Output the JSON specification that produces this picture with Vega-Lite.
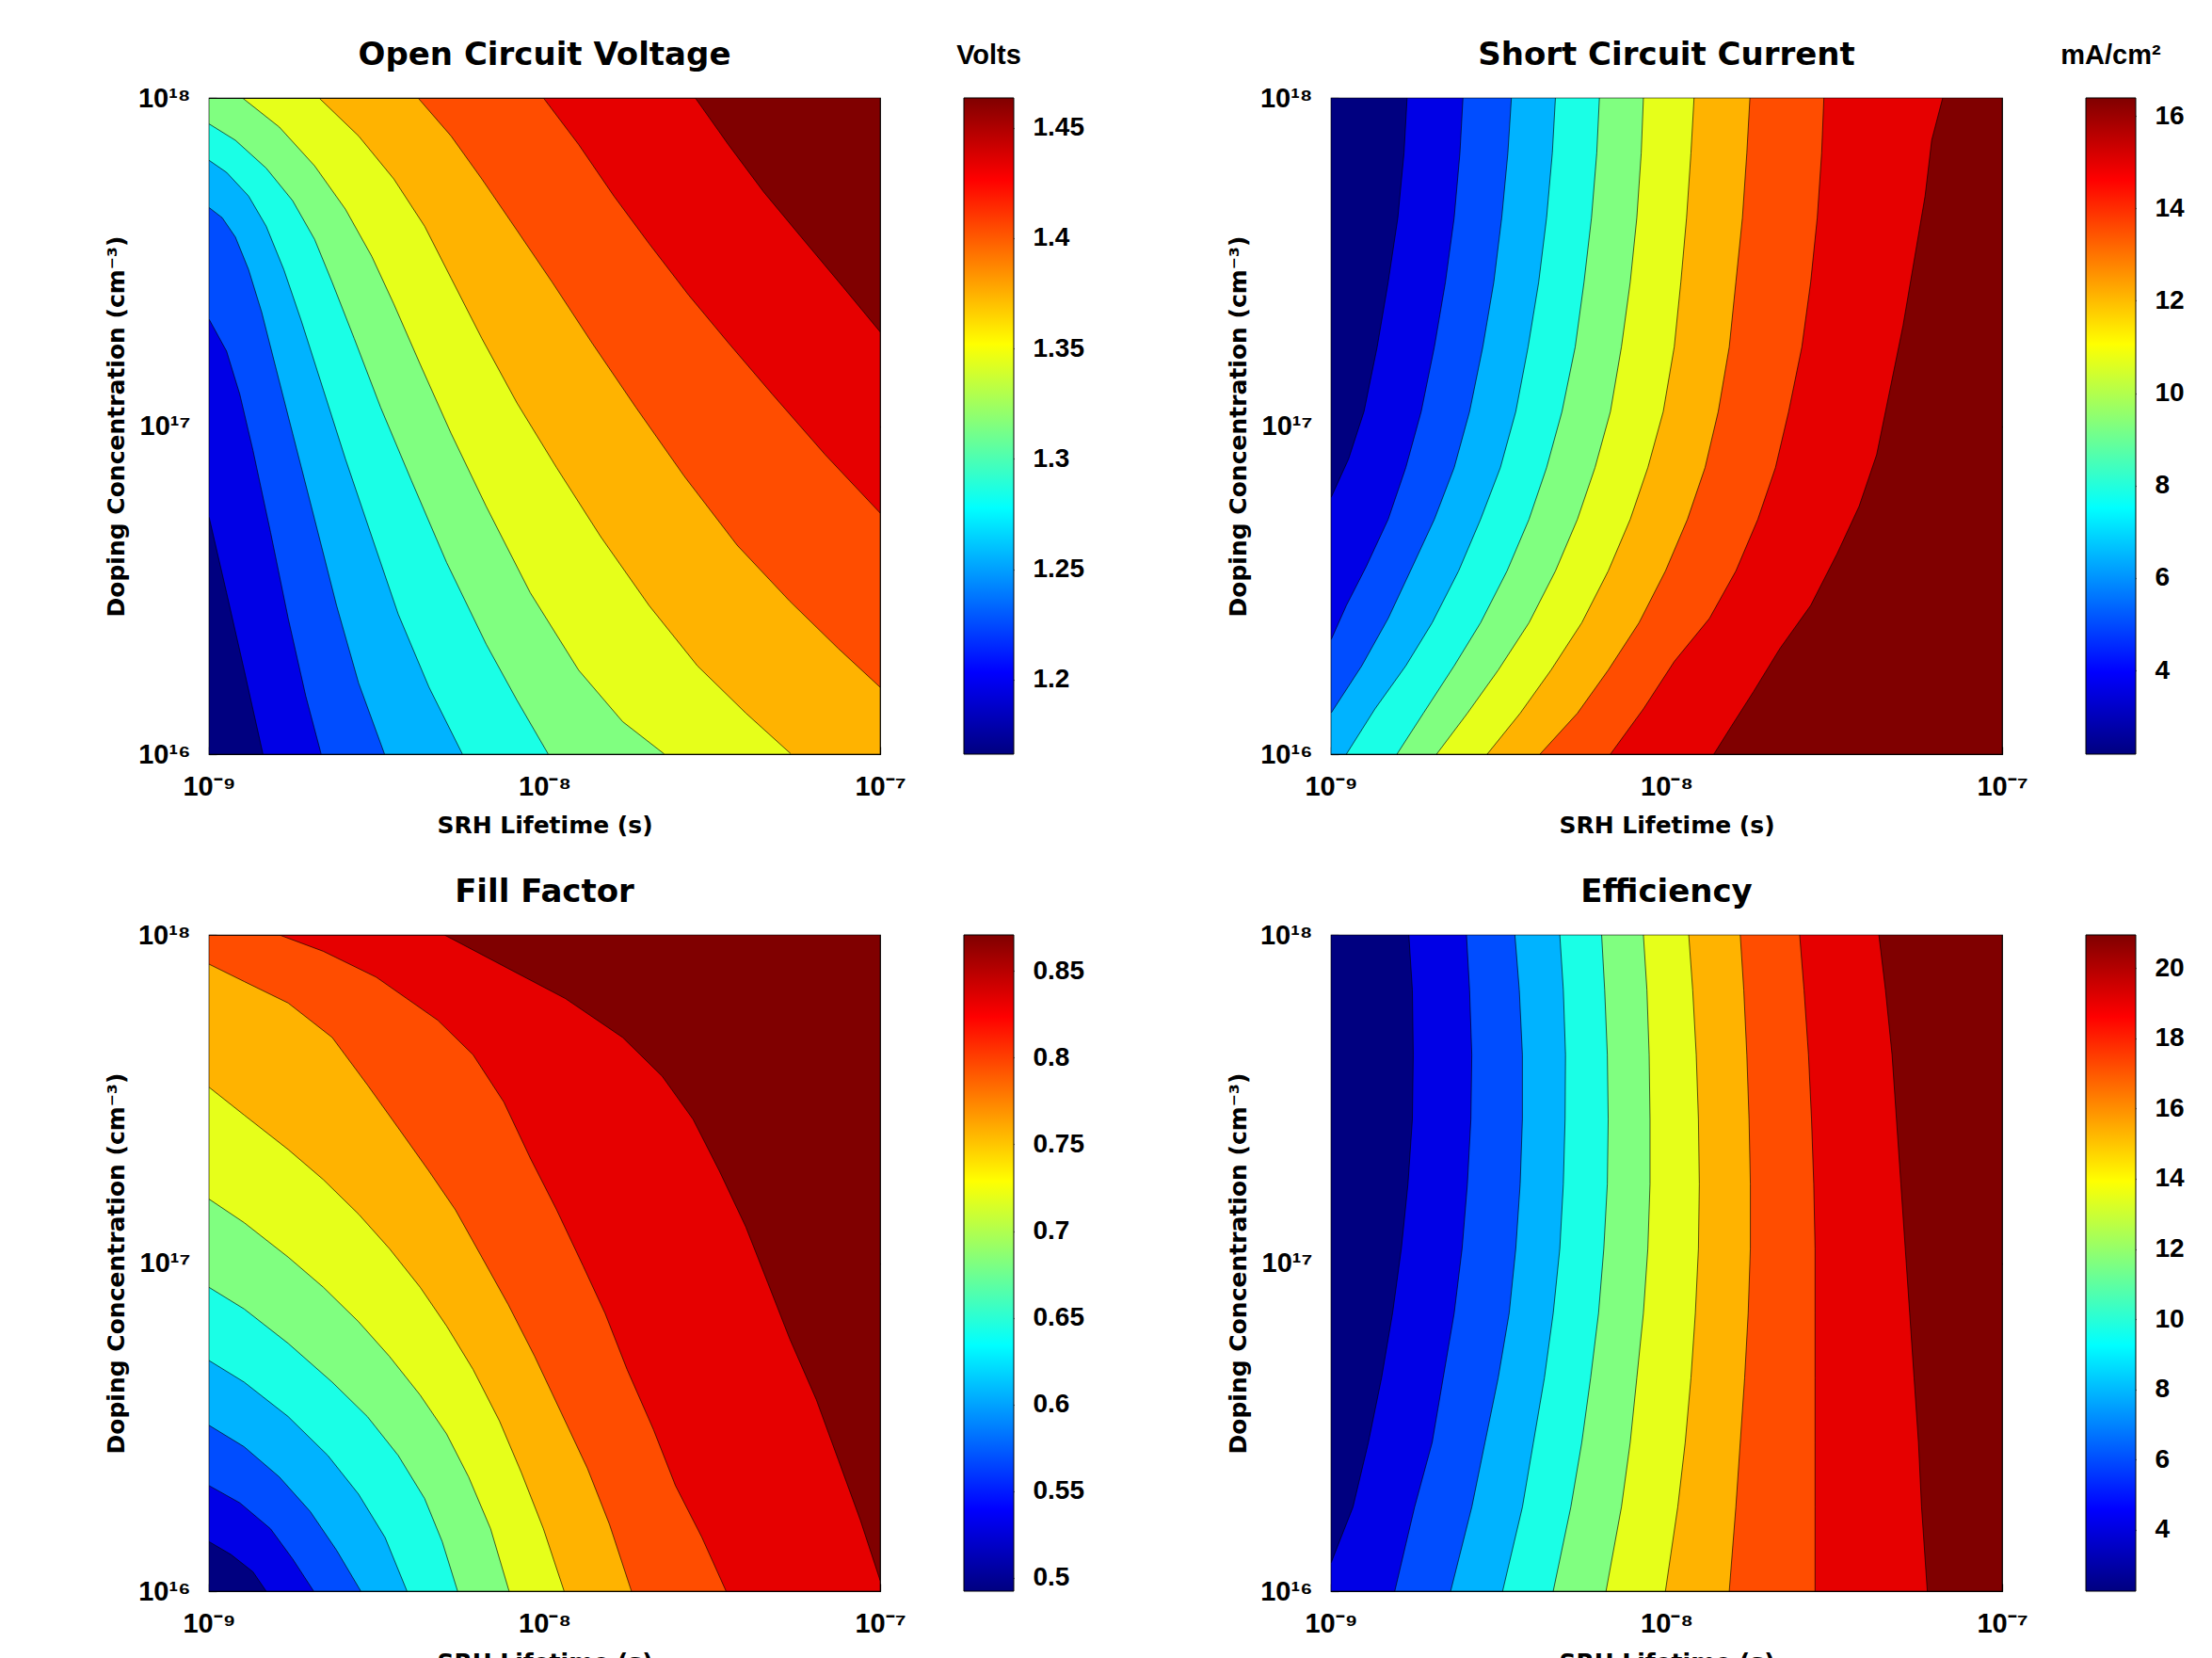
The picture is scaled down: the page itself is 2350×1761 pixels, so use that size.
{
"$schema": "https://vega.github.io/schema/vega-lite/v6.json",
"background": "white",
"padding": {"left": 110, "top": 41, "right": 5, "bottom": 5},
"config": {
  "view": {"stroke": "black", "strokeWidth": 1.2},
  "font": "Liberation Sans",
  "axis": {"grid": false, "domain": false, "tickColor": "black", "tickSize": -8, "tickWidth": 1.2, "zindex": 1, "labelFont": "Liberation Sans", "labelFontWeight": "bold", "labelFontSize": 29, "labelColor": "black", "titleFont": "DejaVu Sans", "titleFontWeight": "bold", "titleFontSize": 25, "titleColor": "black", "labelFlush": false, "labelOverlap": false},
  "title": {"font": "DejaVu Sans", "fontWeight": "bold", "fontSize": 34, "color": "black", "frame": "group", "baseline": "alphabetic", "offset": 14, "anchor": "middle"}
},
"datasets": {
"voc": [
{"k":0,"t":-9,"n":16},{"k":0,"t":-7,"n":16},
{"k":1,"t":-9,"n":16.724},{"k":1,"t":-8.9475,"n":16.492},{"k":1,"t":-8.895,"n":16.256},{"k":1,"t":-8.839,"n":16},{"k":1,"t":-7,"n":16},
{"k":2,"t":-9,"n":17.326},{"k":2,"t":-8.9475,"n":17.228},{"k":2,"t":-8.9082,"n":17.097},{"k":2,"t":-8.8689,"n":16.926},{"k":2,"t":-8.8164,"n":16.676},{"k":2,"t":-8.7639,"n":16.414},{"k":2,"t":-8.7115,"n":16.177},{"k":2,"t":-8.6656,"n":16},{"k":2,"t":-7,"n":16},
{"k":3,"t":-9,"n":17.666},{"k":3,"t":-8.9607,"n":17.635},{"k":3,"t":-8.9213,"n":17.576},{"k":3,"t":-8.882,"n":17.477},{"k":3,"t":-8.8426,"n":17.346},{"k":3,"t":-8.8033,"n":17.188},{"k":3,"t":-8.7508,"n":16.978},{"k":3,"t":-8.6852,"n":16.716},{"k":3,"t":-8.6197,"n":16.453},{"k":3,"t":-8.5541,"n":16.217},{"k":3,"t":-8.4767,"n":16},{"k":3,"t":-7,"n":16},
{"k":4,"t":-9,"n":17.81},{"k":4,"t":-8.9475,"n":17.773},{"k":4,"t":-8.882,"n":17.701},{"k":4,"t":-8.8295,"n":17.609},{"k":4,"t":-8.777,"n":17.477},{"k":4,"t":-8.7246,"n":17.32},{"k":4,"t":-8.659,"n":17.11},{"k":4,"t":-8.5934,"n":16.9},{"k":4,"t":-8.5148,"n":16.663},{"k":4,"t":-8.4361,"n":16.427},{"k":4,"t":-8.3443,"n":16.204},{"k":4,"t":-8.2446,"n":16},{"k":4,"t":-7,"n":16},
{"k":5,"t":-9,"n":17.921},{"k":5,"t":-8.9213,"n":17.871},{"k":5,"t":-8.8295,"n":17.786},{"k":5,"t":-8.7508,"n":17.687},{"k":5,"t":-8.6852,"n":17.569},{"k":5,"t":-8.6328,"n":17.438},{"k":5,"t":-8.5672,"n":17.267},{"k":5,"t":-8.4885,"n":17.057},{"k":5,"t":-8.3967,"n":16.834},{"k":5,"t":-8.2918,"n":16.584},{"k":5,"t":-8.1738,"n":16.335},{"k":5,"t":-8.082,"n":16.164},{"k":5,"t":-7.9889,"n":16},{"k":5,"t":-7,"n":16},
{"k":6,"t":-9,"n":18},{"k":6,"t":-8.9003,"n":18},{"k":6,"t":-8.7902,"n":17.911},{"k":6,"t":-8.6852,"n":17.793},{"k":6,"t":-8.5934,"n":17.661},{"k":6,"t":-8.5148,"n":17.517},{"k":6,"t":-8.4492,"n":17.372},{"k":6,"t":-8.3705,"n":17.188},{"k":6,"t":-8.2787,"n":16.978},{"k":6,"t":-8.1738,"n":16.755},{"k":6,"t":-8.0426,"n":16.492},{"k":6,"t":-7.8984,"n":16.256},{"k":6,"t":-7.7672,"n":16.099},{"k":6,"t":-7.6426,"n":16},{"k":6,"t":-7,"n":16},
{"k":7,"t":-9,"n":18},{"k":7,"t":-8.6721,"n":18},{"k":7,"t":-8.5541,"n":17.884},{"k":7,"t":-8.4492,"n":17.753},{"k":7,"t":-8.3574,"n":17.609},{"k":7,"t":-8.2787,"n":17.451},{"k":7,"t":-8.1869,"n":17.267},{"k":7,"t":-8.082,"n":17.07},{"k":7,"t":-7.964,"n":16.873},{"k":7,"t":-7.8328,"n":16.663},{"k":7,"t":-7.6885,"n":16.453},{"k":7,"t":-7.5443,"n":16.269},{"k":7,"t":-7.4,"n":16.125},{"k":7,"t":-7.2649,"n":16},{"k":7,"t":-7,"n":16},
{"k":8,"t":-9,"n":18},{"k":8,"t":-8.377,"n":18},{"k":8,"t":-8.2787,"n":17.884},{"k":8,"t":-8.1869,"n":17.753},{"k":8,"t":-8.082,"n":17.596},{"k":8,"t":-7.977,"n":17.438},{"k":8,"t":-7.859,"n":17.254},{"k":8,"t":-7.7279,"n":17.057},{"k":8,"t":-7.5836,"n":16.847},{"k":8,"t":-7.4262,"n":16.637},{"k":8,"t":-7.2689,"n":16.466},{"k":8,"t":-7.1246,"n":16.322},{"k":8,"t":-7,"n":16.204},
{"k":9,"t":-9,"n":18},{"k":9,"t":-8.0033,"n":18},{"k":9,"t":-7.8984,"n":17.858},{"k":9,"t":-7.7934,"n":17.701},{"k":9,"t":-7.6885,"n":17.556},{"k":9,"t":-7.5705,"n":17.399},{"k":9,"t":-7.4525,"n":17.254},{"k":9,"t":-7.3213,"n":17.097},{"k":9,"t":-7.1639,"n":16.913},{"k":9,"t":-7,"n":16.735},
{"k":10,"t":-9,"n":18},{"k":10,"t":-7.5508,"n":18},{"k":10,"t":-7.4525,"n":17.858},{"k":10,"t":-7.3475,"n":17.714},{"k":10,"t":-7.2295,"n":17.569},{"k":10,"t":-7.1115,"n":17.425},{"k":10,"t":-7,"n":17.287}
],
"jsc": [
{"k":0,"t":-9,"n":16},{"k":0,"t":-9,"n":18},
{"k":1,"t":-8.7731,"n":18},{"k":1,"t":-8.7823,"n":17.8319},{"k":1,"t":-8.8007,"n":17.6349},{"k":1,"t":-8.8295,"n":17.438},{"k":1,"t":-8.8623,"n":17.241},{"k":1,"t":-8.9016,"n":17.044},{"k":1,"t":-8.9475,"n":16.8996},{"k":1,"t":-9,"n":16.7814},{"k":1,"t":-9,"n":16},
{"k":2,"t":-8.6066,"n":18},{"k":2,"t":-8.6157,"n":17.8319},{"k":2,"t":-8.6328,"n":17.6349},{"k":2,"t":-8.659,"n":17.438},{"k":2,"t":-8.6918,"n":17.241},{"k":2,"t":-8.7311,"n":17.044},{"k":2,"t":-8.777,"n":16.8733},{"k":2,"t":-8.8295,"n":16.7157},{"k":2,"t":-8.8951,"n":16.5713},{"k":2,"t":-8.9541,"n":16.4531},{"k":2,"t":-9,"n":16.348},{"k":2,"t":-9,"n":16},
{"k":3,"t":-8.4623,"n":18},{"k":3,"t":-8.4728,"n":17.8319},{"k":3,"t":-8.4911,"n":17.6349},{"k":3,"t":-8.5148,"n":17.438},{"k":3,"t":-8.5475,"n":17.241},{"k":3,"t":-8.5869,"n":17.044},{"k":3,"t":-8.6328,"n":16.8733},{"k":3,"t":-8.6918,"n":16.7157},{"k":3,"t":-8.7574,"n":16.5713},{"k":3,"t":-8.8295,"n":16.4137},{"k":3,"t":-8.9082,"n":16.2692},{"k":3,"t":-9,"n":16.1247},{"k":3,"t":-9,"n":16},
{"k":4,"t":-8.3311,"n":18},{"k":4,"t":-8.3403,"n":17.8319},{"k":4,"t":-8.3574,"n":17.6349},{"k":4,"t":-8.381,"n":17.438},{"k":4,"t":-8.4125,"n":17.241},{"k":4,"t":-8.4492,"n":17.044},{"k":4,"t":-8.4951,"n":16.8733},{"k":4,"t":-8.5541,"n":16.7157},{"k":4,"t":-8.6197,"n":16.5581},{"k":4,"t":-8.6984,"n":16.4005},{"k":4,"t":-8.777,"n":16.2692},{"k":4,"t":-8.8689,"n":16.1379},{"k":4,"t":-8.9541,"n":16},
{"k":5,"t":-8.2,"n":18},{"k":5,"t":-8.2079,"n":17.8319},{"k":5,"t":-8.2236,"n":17.6349},{"k":5,"t":-8.2459,"n":17.438},{"k":5,"t":-8.2721,"n":17.241},{"k":5,"t":-8.3115,"n":17.044},{"k":5,"t":-8.3574,"n":16.8733},{"k":5,"t":-8.4098,"n":16.7157},{"k":5,"t":-8.4754,"n":16.5581},{"k":5,"t":-8.5541,"n":16.4005},{"k":5,"t":-8.6328,"n":16.2692},{"k":5,"t":-8.7246,"n":16.1247},{"k":5,"t":-8.8033,"n":16},
{"k":6,"t":-8.0689,"n":18},{"k":6,"t":-8.0754,"n":17.8319},{"k":6,"t":-8.0885,"n":17.6349},{"k":6,"t":-8.1082,"n":17.438},{"k":6,"t":-8.1344,"n":17.241},{"k":6,"t":-8.1672,"n":17.044},{"k":6,"t":-8.2131,"n":16.8733},{"k":6,"t":-8.2656,"n":16.7157},{"k":6,"t":-8.3311,"n":16.5581},{"k":6,"t":-8.4098,"n":16.4005},{"k":6,"t":-8.5016,"n":16.2561},{"k":6,"t":-8.5934,"n":16.1247},{"k":6,"t":-8.6852,"n":16},
{"k":7,"t":-7.918,"n":18},{"k":7,"t":-7.9272,"n":17.8319},{"k":7,"t":-7.9403,"n":17.6349},{"k":7,"t":-7.9574,"n":17.438},{"k":7,"t":-7.977,"n":17.241},{"k":7,"t":-8.0098,"n":17.044},{"k":7,"t":-8.0557,"n":16.8733},{"k":7,"t":-8.1082,"n":16.7157},{"k":7,"t":-8.1738,"n":16.5581},{"k":7,"t":-8.2525,"n":16.4005},{"k":7,"t":-8.3443,"n":16.2561},{"k":7,"t":-8.4361,"n":16.1247},{"k":7,"t":-8.5344,"n":16},
{"k":8,"t":-7.7515,"n":18},{"k":8,"t":-7.7607,"n":17.8319},{"k":8,"t":-7.7738,"n":17.6349},{"k":8,"t":-7.7934,"n":17.438},{"k":8,"t":-7.8131,"n":17.241},{"k":8,"t":-7.8459,"n":17.044},{"k":8,"t":-7.8852,"n":16.8733},{"k":8,"t":-7.9377,"n":16.7157},{"k":8,"t":-8.0033,"n":16.5581},{"k":8,"t":-8.082,"n":16.4005},{"k":8,"t":-8.1738,"n":16.2561},{"k":8,"t":-8.2656,"n":16.1247},{"k":8,"t":-8.377,"n":16},
{"k":9,"t":-7.5311,"n":18},{"k":9,"t":-7.5377,"n":17.8319},{"k":9,"t":-7.5508,"n":17.6349},{"k":9,"t":-7.5705,"n":17.438},{"k":9,"t":-7.5967,"n":17.241},{"k":9,"t":-7.6361,"n":17.044},{"k":9,"t":-7.6754,"n":16.8733},{"k":9,"t":-7.7279,"n":16.7157},{"k":9,"t":-7.7934,"n":16.5581},{"k":9,"t":-7.8721,"n":16.4137},{"k":9,"t":-7.977,"n":16.2823},{"k":9,"t":-8.0689,"n":16.1379},{"k":9,"t":-8.1672,"n":16},
{"k":10,"t":-7.177,"n":18},{"k":10,"t":-7.2098,"n":17.8713},{"k":10,"t":-7.2295,"n":17.7006},{"k":10,"t":-7.2623,"n":17.5036},{"k":10,"t":-7.2951,"n":17.3066},{"k":10,"t":-7.3344,"n":17.1097},{"k":10,"t":-7.3738,"n":16.9127},{"k":10,"t":-7.4262,"n":16.7551},{"k":10,"t":-7.4918,"n":16.6107},{"k":10,"t":-7.5705,"n":16.4531},{"k":10,"t":-7.6623,"n":16.3217},{"k":10,"t":-7.741,"n":16.1904},{"k":10,"t":-7.8066,"n":16.0853},{"k":10,"t":-7.859,"n":16}
],
"ff": [
{"k":0,"t":-9,"n":16},{"k":0,"t":-7,"n":16},
{"k":1,"t":-9,"n":16.151},{"k":1,"t":-8.9344,"n":16.1116},{"k":1,"t":-8.8689,"n":16.059},{"k":1,"t":-8.8295,"n":16},{"k":1,"t":-7,"n":16},
{"k":2,"t":-9,"n":16.3217},{"k":2,"t":-8.9082,"n":16.2692},{"k":2,"t":-8.8164,"n":16.19},{"k":2,"t":-8.7508,"n":16.0985},{"k":2,"t":-8.6879,"n":16},{"k":2,"t":-7,"n":16},
{"k":3,"t":-9,"n":16.5056},{"k":3,"t":-8.8951,"n":16.44},{"k":3,"t":-8.7902,"n":16.348},{"k":3,"t":-8.6984,"n":16.243},{"k":3,"t":-8.6197,"n":16.1247},{"k":3,"t":-8.5475,"n":16},{"k":3,"t":-7,"n":16},
{"k":4,"t":-9,"n":16.703},{"k":4,"t":-8.8951,"n":16.637},{"k":4,"t":-8.7639,"n":16.532},{"k":4,"t":-8.6459,"n":16.4137},{"k":4,"t":-8.5541,"n":16.2955},{"k":4,"t":-8.4754,"n":16.164},{"k":4,"t":-8.4098,"n":16},{"k":4,"t":-7,"n":16},
{"k":5,"t":-9,"n":16.926},{"k":5,"t":-8.8951,"n":16.86},{"k":5,"t":-8.7639,"n":16.7551},{"k":5,"t":-8.6328,"n":16.637},{"k":5,"t":-8.5279,"n":16.532},{"k":5,"t":-8.4361,"n":16.4137},{"k":5,"t":-8.3574,"n":16.2823},{"k":5,"t":-8.3049,"n":16.151},{"k":5,"t":-8.259,"n":16},{"k":5,"t":-7,"n":16},
{"k":6,"t":-9,"n":17.195},{"k":6,"t":-8.8951,"n":17.123},{"k":6,"t":-8.7639,"n":17.018},{"k":6,"t":-8.659,"n":16.926},{"k":6,"t":-8.5541,"n":16.821},{"k":6,"t":-8.4623,"n":16.7157},{"k":6,"t":-8.3705,"n":16.5975},{"k":6,"t":-8.2918,"n":16.479},{"k":6,"t":-8.2262,"n":16.348},{"k":6,"t":-8.1607,"n":16.19},{"k":6,"t":-8.1056,"n":16},{"k":6,"t":-7,"n":16},
{"k":7,"t":-9,"n":17.536},{"k":7,"t":-8.8951,"n":17.451},{"k":7,"t":-8.7639,"n":17.346},{"k":7,"t":-8.659,"n":17.254},{"k":7,"t":-8.5541,"n":17.149},{"k":7,"t":-8.4623,"n":17.044},{"k":7,"t":-8.3705,"n":16.926},{"k":7,"t":-8.2918,"n":16.808},{"k":7,"t":-8.2131,"n":16.676},{"k":7,"t":-8.1344,"n":16.519},{"k":7,"t":-8.0689,"n":16.361},{"k":7,"t":-8.0033,"n":16.19},{"k":7,"t":-7.9416,"n":16},{"k":7,"t":-7,"n":16},
{"k":8,"t":-9,"n":17.911},{"k":8,"t":-8.8951,"n":17.858},{"k":8,"t":-8.7639,"n":17.7925},{"k":8,"t":-8.6328,"n":17.6875},{"k":8,"t":-8.5279,"n":17.543},{"k":8,"t":-8.4361,"n":17.412},{"k":8,"t":-8.3443,"n":17.28},{"k":8,"t":-8.2656,"n":17.162},{"k":8,"t":-8.1869,"n":17.018},{"k":8,"t":-8.1082,"n":16.8733},{"k":8,"t":-8.0295,"n":16.7157},{"k":8,"t":-7.9508,"n":16.545},{"k":8,"t":-7.8721,"n":16.374},{"k":8,"t":-7.8066,"n":16.204},{"k":8,"t":-7.741,"n":16},{"k":8,"t":-7,"n":16},
{"k":9,"t":-9,"n":18},{"k":9,"t":-8.7902,"n":18},{"k":9,"t":-8.659,"n":17.95},{"k":9,"t":-8.5016,"n":17.8713},{"k":9,"t":-8.318,"n":17.74},{"k":9,"t":-8.2131,"n":17.6349},{"k":9,"t":-8.1213,"n":17.4905},{"k":9,"t":-8.0426,"n":17.32},{"k":9,"t":-7.9639,"n":17.162},{"k":9,"t":-7.8852,"n":16.9915},{"k":9,"t":-7.8197,"n":16.847},{"k":9,"t":-7.7541,"n":16.676},{"k":9,"t":-7.6754,"n":16.4925},{"k":9,"t":-7.6098,"n":16.3217},{"k":9,"t":-7.5311,"n":16.164},{"k":9,"t":-7.459,"n":16},{"k":9,"t":-7,"n":16},
{"k":10,"t":-9,"n":18},{"k":10,"t":-8.2984,"n":18},{"k":10,"t":-8.1082,"n":17.8976},{"k":10,"t":-7.9377,"n":17.806},{"k":10,"t":-7.7672,"n":17.6875},{"k":10,"t":-7.6492,"n":17.569},{"k":10,"t":-7.5574,"n":17.438},{"k":10,"t":-7.4787,"n":17.28},{"k":10,"t":-7.4,"n":17.1097},{"k":10,"t":-7.3344,"n":16.939},{"k":10,"t":-7.2689,"n":16.768},{"k":10,"t":-7.1902,"n":16.584},{"k":10,"t":-7.1246,"n":16.4005},{"k":10,"t":-7.059,"n":16.217},{"k":10,"t":-7,"n":16.033}
],
"eff": [
{"k":0,"t":-9,"n":16},{"k":0,"t":-9,"n":18},
{"k":1,"t":-8.7679,"n":18},{"k":1,"t":-8.7574,"n":17.8319},{"k":1,"t":-8.7548,"n":17.6349},{"k":1,"t":-8.7574,"n":17.438},{"k":1,"t":-8.7705,"n":17.241},{"k":1,"t":-8.7902,"n":17.044},{"k":1,"t":-8.8164,"n":16.847},{"k":1,"t":-8.8492,"n":16.65},{"k":1,"t":-8.8885,"n":16.4531},{"k":1,"t":-8.9344,"n":16.2561},{"k":1,"t":-9,"n":16.0853},{"k":1,"t":-9,"n":16},
{"k":2,"t":-8.5961,"n":18},{"k":2,"t":-8.5869,"n":17.8319},{"k":2,"t":-8.5803,"n":17.6349},{"k":2,"t":-8.583,"n":17.438},{"k":2,"t":-8.5934,"n":17.241},{"k":2,"t":-8.6092,"n":17.044},{"k":2,"t":-8.6328,"n":16.847},{"k":2,"t":-8.6656,"n":16.65},{"k":2,"t":-8.6984,"n":16.4531},{"k":2,"t":-8.7508,"n":16.2561},{"k":2,"t":-8.8098,"n":16},
{"k":3,"t":-8.4518,"n":18},{"k":3,"t":-8.4387,"n":17.8319},{"k":3,"t":-8.4295,"n":17.6349},{"k":3,"t":-8.4295,"n":17.438},{"k":3,"t":-8.4361,"n":17.241},{"k":3,"t":-8.4492,"n":17.044},{"k":3,"t":-8.4689,"n":16.847},{"k":3,"t":-8.5016,"n":16.65},{"k":3,"t":-8.541,"n":16.4531},{"k":3,"t":-8.5803,"n":16.2561},{"k":3,"t":-8.6433,"n":16},
{"k":4,"t":-8.318,"n":18},{"k":4,"t":-8.3075,"n":17.8319},{"k":4,"t":-8.301,"n":17.6349},{"k":4,"t":-8.3023,"n":17.438},{"k":4,"t":-8.3075,"n":17.241},{"k":4,"t":-8.318,"n":17.044},{"k":4,"t":-8.3377,"n":16.847},{"k":4,"t":-8.3639,"n":16.65},{"k":4,"t":-8.3967,"n":16.4531},{"k":4,"t":-8.4295,"n":16.2561},{"k":4,"t":-8.4885,"n":16},
{"k":5,"t":-8.1934,"n":18},{"k":5,"t":-8.1843,"n":17.8319},{"k":5,"t":-8.1764,"n":17.6349},{"k":5,"t":-8.1738,"n":17.438},{"k":5,"t":-8.1764,"n":17.241},{"k":5,"t":-8.1869,"n":17.044},{"k":5,"t":-8.2026,"n":16.847},{"k":5,"t":-8.2262,"n":16.65},{"k":5,"t":-8.2525,"n":16.4531},{"k":5,"t":-8.2852,"n":16.2561},{"k":5,"t":-8.3377,"n":16},
{"k":6,"t":-8.0689,"n":18},{"k":6,"t":-8.0584,"n":17.8319},{"k":6,"t":-8.0518,"n":17.6349},{"k":6,"t":-8.0492,"n":17.438},{"k":6,"t":-8.0492,"n":17.241},{"k":6,"t":-8.0557,"n":17.044},{"k":6,"t":-8.0689,"n":16.847},{"k":6,"t":-8.0885,"n":16.65},{"k":6,"t":-8.1082,"n":16.4531},{"k":6,"t":-8.1344,"n":16.2561},{"k":6,"t":-8.1803,"n":16},
{"k":7,"t":-7.9338,"n":18},{"k":7,"t":-7.922,"n":17.8319},{"k":7,"t":-7.9115,"n":17.6349},{"k":7,"t":-7.9049,"n":17.438},{"k":7,"t":-7.9023,"n":17.241},{"k":7,"t":-7.9049,"n":17.044},{"k":7,"t":-7.9141,"n":16.847},{"k":7,"t":-7.9272,"n":16.65},{"k":7,"t":-7.9443,"n":16.4531},{"k":7,"t":-7.9666,"n":16.2561},{"k":7,"t":-8.0033,"n":16},
{"k":8,"t":-7.7803,"n":18},{"k":8,"t":-7.7698,"n":17.8319},{"k":8,"t":-7.7607,"n":17.6349},{"k":8,"t":-7.7541,"n":17.438},{"k":8,"t":-7.7502,"n":17.241},{"k":8,"t":-7.7502,"n":17.044},{"k":8,"t":-7.7567,"n":16.847},{"k":8,"t":-7.7672,"n":16.65},{"k":8,"t":-7.7803,"n":16.4531},{"k":8,"t":-7.7934,"n":16.2561},{"k":8,"t":-7.8131,"n":16},
{"k":9,"t":-7.6033,"n":18},{"k":9,"t":-7.5902,"n":17.8319},{"k":9,"t":-7.577,"n":17.6349},{"k":9,"t":-7.5679,"n":17.438},{"k":9,"t":-7.5613,"n":17.241},{"k":9,"t":-7.5574,"n":17.044},{"k":9,"t":-7.5574,"n":16.847},{"k":9,"t":-7.5574,"n":16.65},{"k":9,"t":-7.5574,"n":16.4531},{"k":9,"t":-7.5574,"n":16.2561},{"k":9,"t":-7.5574,"n":16},
{"k":10,"t":-7.3672,"n":18},{"k":10,"t":-7.3475,"n":17.8319},{"k":10,"t":-7.3279,"n":17.6349},{"k":10,"t":-7.3148,"n":17.438},{"k":10,"t":-7.3016,"n":17.241},{"k":10,"t":-7.2885,"n":17.044},{"k":10,"t":-7.2754,"n":16.847},{"k":10,"t":-7.2623,"n":16.65},{"k":10,"t":-7.2492,"n":16.4531},{"k":10,"t":-7.24,"n":16.2561},{"k":10,"t":-7.2229,"n":16}
]
},
"columns": 4,
"spacing": {"row": 192, "column": 89},
"bounds": "flush",
"concat": [
{"width": 713, "height": 697, "title": {"text": "Open Circuit Voltage"}, "data": {"name": "voc"},
 "resolve": {"axis": {"x": "independent", "y": "independent"}},
 "layer": [
  {"mark": {"type": "area", "orient": "vertical", "stroke": "black", "strokeWidth": 0.8, "strokeOpacity": 0.8, "clip": true},
   "encoding": {
     "x": {"field": "t", "type": "quantitative", "scale": {"domain": [-9, -7], "nice": false, "zero": false}, "axis": {"values": [-9, -8, -7], "labelExpr": "datum.value == -9 ? '10⁻⁹' : datum.value == -8 ? '10⁻⁸' : '10⁻⁷'", "title": "SRH Lifetime (s)", "labelPadding": 28, "titlePadding": 14}},
     "y": {"field": "n", "type": "quantitative", "stack": null, "scale": {"domain": [16, 18], "nice": false, "zero": false}, "axis": {"values": [16, 17, 18], "labelExpr": "datum.value == 16 ? '10¹⁶' : datum.value == 17 ? '10¹⁷' : '10¹⁸'", "title": "Doping Concentration (cm⁻³)", "labelPadding": 28, "titlePadding": 10}},
     "y2": {"datum": 18},
     "color": {"field": "k", "type": "ordinal", "scale": {"domain": [0,1,2,3,4,5,6,7,8,9,10], "range": ["#000080","#0000e6","#004dff","#00b3ff","#1affe6","#80ff80","#e6ff1a","#ffb300","#ff4d00","#e60000","#800000"]}, "legend": null}
   }},
  {"mark": {"type": "point", "opacity": 0},
   "encoding": {
     "x": {"field": "t", "type": "quantitative", "scale": {"domain": [-9, -7], "nice": false, "zero": false}, "axis": {"orient": "top", "values": [-8], "labels": false, "title": null}},
     "y": {"field": "n", "type": "quantitative", "scale": {"domain": [16, 18], "nice": false, "zero": false}, "axis": {"orient": "right", "values": [17], "labels": false, "title": null}}
   }}
 ]},
{"width": 301, "height": 697, "view": {"stroke": null}, "title": {"text": "Volts", "font": "Liberation Sans", "fontSize": 29, "offset": 30, "anchor": "start", "align": "center", "dx": 26.5}, "data": {"values": [{"lo": 1.1662, "hi": 1.4635}]},
 "resolve": {"axis": {"y": "independent"}},
 "layer": [
  {"mark": {"type": "rect", "stroke": "black", "strokeWidth": 1, "fill": {"gradient": "linear", "x1": 0, "y1": 1, "x2": 0, "y2": 0, "stops": [{"offset": 0, "color": "#000080"}, {"offset": 0.125, "color": "#0000ff"}, {"offset": 0.375, "color": "#00ffff"}, {"offset": 0.625, "color": "#ffff00"}, {"offset": 0.875, "color": "#ff0000"}, {"offset": 1, "color": "#800000"}]}},
   "encoding": {
     "x": {"datum": 0, "type": "quantitative", "scale": {"domain": [0, 301], "nice": false, "zero": false}, "axis": null},
     "x2": {"datum": 53},
     "y": {"field": "lo", "type": "quantitative", "scale": {"domain": [1.1662, 1.4635], "nice": false, "zero": false}, "axis": {"orient": "right", "offset": -248, "values": [1.2, 1.25, 1.3, 1.35, 1.4, 1.45], "format": "~g", "title": null, "labelFontSize": 28, "labelPadding": 28}},
     "y2": {"field": "hi"}
   }},
  {"mark": {"type": "point", "opacity": 0},
   "encoding": {
     "y": {"field": "lo", "type": "quantitative", "scale": {"domain": [1.1662, 1.4635], "nice": false, "zero": false}, "axis": {"orient": "left", "values": [1.2, 1.25, 1.3, 1.35, 1.4, 1.45], "labels": false, "title": null}}
   }}
 ]},
{"width": 713, "height": 697, "title": {"text": "Short Circuit Current"}, "data": {"name": "jsc"},
 "resolve": {"axis": {"x": "independent", "y": "independent"}},
 "layer": [
  {"mark": {"type": "area", "orient": "horizontal", "stroke": "black", "strokeWidth": 0.8, "strokeOpacity": 0.8, "clip": true},
   "encoding": {
     "y": {"field": "n", "type": "quantitative", "scale": {"domain": [16, 18], "nice": false, "zero": false}, "axis": {"values": [16, 17, 18], "labelExpr": "datum.value == 16 ? '10¹⁶' : datum.value == 17 ? '10¹⁷' : '10¹⁸'", "title": "Doping Concentration (cm⁻³)", "labelPadding": 28, "titlePadding": 10}},
     "x": {"field": "t", "type": "quantitative", "stack": null, "scale": {"domain": [-9, -7], "nice": false, "zero": false}, "axis": {"values": [-9, -8, -7], "labelExpr": "datum.value == -9 ? '10⁻⁹' : datum.value == -8 ? '10⁻⁸' : '10⁻⁷'", "title": "SRH Lifetime (s)", "labelPadding": 28, "titlePadding": 14}},
     "x2": {"datum": -7},
     "color": {"field": "k", "type": "ordinal", "scale": {"domain": [0,1,2,3,4,5,6,7,8,9,10], "range": ["#000080","#0000e6","#004dff","#00b3ff","#1affe6","#80ff80","#e6ff1a","#ffb300","#ff4d00","#e60000","#800000"]}, "legend": null}
   }},
  {"mark": {"type": "point", "opacity": 0},
   "encoding": {
     "x": {"field": "t", "type": "quantitative", "scale": {"domain": [-9, -7], "nice": false, "zero": false}, "axis": {"orient": "top", "values": [-8], "labels": false, "title": null}},
     "y": {"field": "n", "type": "quantitative", "scale": {"domain": [16, 18], "nice": false, "zero": false}, "axis": {"orient": "right", "values": [17], "labels": false, "title": null}}
   }}
 ]},
{"width": 301, "height": 697, "view": {"stroke": null}, "title": {"text": "mA/cm²", "font": "Liberation Sans", "fontSize": 29, "offset": 30, "anchor": "start", "align": "center", "dx": 26.5}, "data": {"values": [{"lo": 2.19, "hi": 16.39}]},
 "resolve": {"axis": {"y": "independent"}},
 "layer": [
  {"mark": {"type": "rect", "stroke": "black", "strokeWidth": 1, "fill": {"gradient": "linear", "x1": 0, "y1": 1, "x2": 0, "y2": 0, "stops": [{"offset": 0, "color": "#000080"}, {"offset": 0.125, "color": "#0000ff"}, {"offset": 0.375, "color": "#00ffff"}, {"offset": 0.625, "color": "#ffff00"}, {"offset": 0.875, "color": "#ff0000"}, {"offset": 1, "color": "#800000"}]}},
   "encoding": {
     "x": {"datum": 0, "type": "quantitative", "scale": {"domain": [0, 301], "nice": false, "zero": false}, "axis": null},
     "x2": {"datum": 53},
     "y": {"field": "lo", "type": "quantitative", "scale": {"domain": [2.19, 16.39], "nice": false, "zero": false}, "axis": {"orient": "right", "offset": -248, "values": [4, 6, 8, 10, 12, 14, 16], "format": "~g", "title": null, "labelFontSize": 28, "labelPadding": 28}},
     "y2": {"field": "hi"}
   }},
  {"mark": {"type": "point", "opacity": 0},
   "encoding": {
     "y": {"field": "lo", "type": "quantitative", "scale": {"domain": [2.19, 16.39], "nice": false, "zero": false}, "axis": {"orient": "left", "values": [4, 6, 8, 10, 12, 14, 16], "labels": false, "title": null}}
   }}
 ]},
{"width": 713, "height": 697, "title": {"text": "Fill Factor"}, "data": {"name": "ff"},
 "resolve": {"axis": {"x": "independent", "y": "independent"}},
 "layer": [
  {"mark": {"type": "area", "orient": "vertical", "stroke": "black", "strokeWidth": 0.8, "strokeOpacity": 0.8, "clip": true},
   "encoding": {
     "x": {"field": "t", "type": "quantitative", "scale": {"domain": [-9, -7], "nice": false, "zero": false}, "axis": {"values": [-9, -8, -7], "labelExpr": "datum.value == -9 ? '10⁻⁹' : datum.value == -8 ? '10⁻⁸' : '10⁻⁷'", "title": "SRH Lifetime (s)", "labelPadding": 28, "titlePadding": 14}},
     "y": {"field": "n", "type": "quantitative", "stack": null, "scale": {"domain": [16, 18], "nice": false, "zero": false}, "axis": {"values": [16, 17, 18], "labelExpr": "datum.value == 16 ? '10¹⁶' : datum.value == 17 ? '10¹⁷' : '10¹⁸'", "title": "Doping Concentration (cm⁻³)", "labelPadding": 28, "titlePadding": 10}},
     "y2": {"datum": 18},
     "color": {"field": "k", "type": "ordinal", "scale": {"domain": [0,1,2,3,4,5,6,7,8,9,10], "range": ["#000080","#0000e6","#004dff","#00b3ff","#1affe6","#80ff80","#e6ff1a","#ffb300","#ff4d00","#e60000","#800000"]}, "legend": null}
   }},
  {"mark": {"type": "point", "opacity": 0},
   "encoding": {
     "x": {"field": "t", "type": "quantitative", "scale": {"domain": [-9, -7], "nice": false, "zero": false}, "axis": {"orient": "top", "values": [-8], "labels": false, "title": null}},
     "y": {"field": "n", "type": "quantitative", "scale": {"domain": [16, 18], "nice": false, "zero": false}, "axis": {"orient": "right", "values": [17], "labels": false, "title": null}}
   }}
 ]},
{"width": 301, "height": 697, "view": {"stroke": null}, "data": {"values": [{"lo": 0.4924, "hi": 0.8707}]},
 "resolve": {"axis": {"y": "independent"}},
 "layer": [
  {"mark": {"type": "rect", "stroke": "black", "strokeWidth": 1, "fill": {"gradient": "linear", "x1": 0, "y1": 1, "x2": 0, "y2": 0, "stops": [{"offset": 0, "color": "#000080"}, {"offset": 0.125, "color": "#0000ff"}, {"offset": 0.375, "color": "#00ffff"}, {"offset": 0.625, "color": "#ffff00"}, {"offset": 0.875, "color": "#ff0000"}, {"offset": 1, "color": "#800000"}]}},
   "encoding": {
     "x": {"datum": 0, "type": "quantitative", "scale": {"domain": [0, 301], "nice": false, "zero": false}, "axis": null},
     "x2": {"datum": 53},
     "y": {"field": "lo", "type": "quantitative", "scale": {"domain": [0.4924, 0.8707], "nice": false, "zero": false}, "axis": {"orient": "right", "offset": -248, "values": [0.5, 0.55, 0.6, 0.65, 0.7, 0.75, 0.8, 0.85], "format": "~g", "title": null, "labelFontSize": 28, "labelPadding": 28}},
     "y2": {"field": "hi"}
   }},
  {"mark": {"type": "point", "opacity": 0},
   "encoding": {
     "y": {"field": "lo", "type": "quantitative", "scale": {"domain": [0.4924, 0.8707], "nice": false, "zero": false}, "axis": {"orient": "left", "values": [0.5, 0.55, 0.6, 0.65, 0.7, 0.75, 0.8, 0.85], "labels": false, "title": null}}
   }}
 ]},
{"width": 713, "height": 697, "title": {"text": "Efficiency"}, "data": {"name": "eff"},
 "resolve": {"axis": {"x": "independent", "y": "independent"}},
 "layer": [
  {"mark": {"type": "area", "orient": "horizontal", "stroke": "black", "strokeWidth": 0.8, "strokeOpacity": 0.8, "clip": true},
   "encoding": {
     "y": {"field": "n", "type": "quantitative", "scale": {"domain": [16, 18], "nice": false, "zero": false}, "axis": {"values": [16, 17, 18], "labelExpr": "datum.value == 16 ? '10¹⁶' : datum.value == 17 ? '10¹⁷' : '10¹⁸'", "title": "Doping Concentration (cm⁻³)", "labelPadding": 28, "titlePadding": 10}},
     "x": {"field": "t", "type": "quantitative", "stack": null, "scale": {"domain": [-9, -7], "nice": false, "zero": false}, "axis": {"values": [-9, -8, -7], "labelExpr": "datum.value == -9 ? '10⁻⁹' : datum.value == -8 ? '10⁻⁸' : '10⁻⁷'", "title": "SRH Lifetime (s)", "labelPadding": 28, "titlePadding": 14}},
     "x2": {"datum": -7},
     "color": {"field": "k", "type": "ordinal", "scale": {"domain": [0,1,2,3,4,5,6,7,8,9,10], "range": ["#000080","#0000e6","#004dff","#00b3ff","#1affe6","#80ff80","#e6ff1a","#ffb300","#ff4d00","#e60000","#800000"]}, "legend": null}
   }},
  {"mark": {"type": "point", "opacity": 0},
   "encoding": {
     "x": {"field": "t", "type": "quantitative", "scale": {"domain": [-9, -7], "nice": false, "zero": false}, "axis": {"orient": "top", "values": [-8], "labels": false, "title": null}},
     "y": {"field": "n", "type": "quantitative", "scale": {"domain": [16, 18], "nice": false, "zero": false}, "axis": {"orient": "right", "values": [17], "labels": false, "title": null}}
   }}
 ]},
{"width": 301, "height": 697, "view": {"stroke": null}, "data": {"values": [{"lo": 2.255, "hi": 20.945}]},
 "resolve": {"axis": {"y": "independent"}},
 "layer": [
  {"mark": {"type": "rect", "stroke": "black", "strokeWidth": 1, "fill": {"gradient": "linear", "x1": 0, "y1": 1, "x2": 0, "y2": 0, "stops": [{"offset": 0, "color": "#000080"}, {"offset": 0.125, "color": "#0000ff"}, {"offset": 0.375, "color": "#00ffff"}, {"offset": 0.625, "color": "#ffff00"}, {"offset": 0.875, "color": "#ff0000"}, {"offset": 1, "color": "#800000"}]}},
   "encoding": {
     "x": {"datum": 0, "type": "quantitative", "scale": {"domain": [0, 301], "nice": false, "zero": false}, "axis": null},
     "x2": {"datum": 53},
     "y": {"field": "lo", "type": "quantitative", "scale": {"domain": [2.255, 20.945], "nice": false, "zero": false}, "axis": {"orient": "right", "offset": -248, "values": [4, 6, 8, 10, 12, 14, 16, 18, 20], "format": "~g", "title": null, "labelFontSize": 28, "labelPadding": 28}},
     "y2": {"field": "hi"}
   }},
  {"mark": {"type": "point", "opacity": 0},
   "encoding": {
     "y": {"field": "lo", "type": "quantitative", "scale": {"domain": [2.255, 20.945], "nice": false, "zero": false}, "axis": {"orient": "left", "values": [4, 6, 8, 10, 12, 14, 16, 18, 20], "labels": false, "title": null}}
   }}
 ]}
]
}
